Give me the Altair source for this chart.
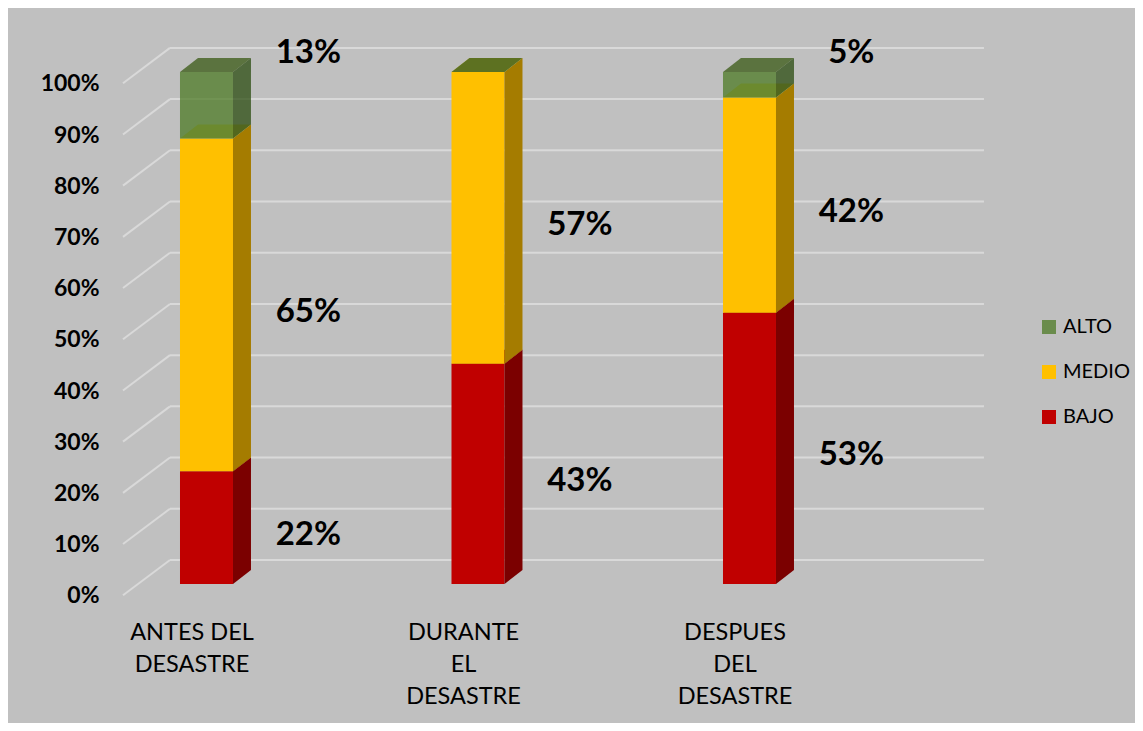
import json
import altair as alt
import pandas as pd

# ---------------- data ----------------
categories = ["ANTES DEL DESASTRE", "DURANTE EL DESASTRE", "DESPUES DEL DESASTRE"]
category_lines = [["ANTES DEL", "DESASTRE"], ["DURANTE", "EL", "DESASTRE"], ["DESPUES", "DEL", "DESASTRE"]]
series = ["BAJO", "MEDIO", "ALTO"]
bajo = [22, 43, 53]
medio = [65, 57, 42]
alto = [13, 0, 5]
y_ticks = [0, 10, 20, 30, 40, 50, 60, 70, 80, 90, 100]
legend_order = ["ALTO", "MEDIO", "BAJO"]

# ---------------- style ----------------
FONT = "Lato"
BG = "#C0C0C0"
GRID = "#D9D9D9"
front_color = {"BAJO": "#C00000", "MEDIO": "#FFC000", "ALTO": "#4D7B25"}
side_color = {"BAJO": "#7B0000", "MEDIO": "#A57C00", "ALTO": "#2B4C10"}
top_color = {"BAJO": "#8E0000", "MEDIO": "#C5B749", "ALTO": "#395914"}
face_opacity = {"BAJO": 1.0, "MEDIO": 1.0, "ALTO": 0.75}
legend_color = {"ALTO": "#6A8C4C", "MEDIO": "#FFC000", "BAJO": "#C00000"}

HW = 0.0976     # half bar width (x units)
DX = 0.0663     # 3D depth in x
DY = 2.73       # 3D depth in y (value units)
FRONT_U, BACK_U, BACK_U_END = -0.3075, -0.1344, 2.8637
FRONT_DV, BACK_DV = -2.2, 4.7
LABEL_DX = 0.375

xs = alt.Scale(domain=[-0.3554, 2.9227], nice=False, zero=False)
ys = alt.Scale(domain=[-3.125, 108.2], nice=False, zero=False)

# ---------------- tables ----------------
seg_rows = []
for i, c in enumerate(categories):
    base = 0
    for s, vals in zip(series, [bajo, medio, alto]):
        v = vals[i]
        seg_rows.append(dict(i=i, cat=c, series=s, value=v, bottom=base, top=base + v,
                             seg=f"{i}-{s}"))
        base += v
segs = pd.DataFrame(seg_rows)
segs["xl"] = segs["i"] - HW
segs["xr"] = segs["i"] + HW

side_rows, top_rows = [], []
for r in seg_rows:
    i = r["i"]
    side_rows.append(dict(seg=r["seg"], series=r["series"], sx=i + HW, lo=r["bottom"], hi=r["top"]))
    side_rows.append(dict(seg=r["seg"], series=r["series"], sx=i + HW + DX, lo=r["bottom"] + DY, hi=r["top"] + DY))
    top_rows.append(dict(seg=r["seg"], series=r["series"], ty=r["top"], tx=i - HW, tx2=i + HW))
    top_rows.append(dict(seg=r["seg"], series=r["series"], ty=r["top"] + DY, tx=i - HW + DX, tx2=i + HW + DX))
sides = pd.DataFrame(side_rows)
tops = pd.DataFrame(top_rows)

back_lines = pd.DataFrame({"gy": [t + BACK_DV for t in y_ticks], "gx": BACK_U, "gx2": BACK_U_END})
diag_lines = pd.DataFrame({"gx": FRONT_U, "gy": [t + FRONT_DV for t in y_ticks],
                           "gx2": BACK_U, "gy2": [t + BACK_DV for t in y_ticks]})

lab = segs[segs["value"] > 0].copy()
lab["lx"] = lab["i"] + LABEL_DX
lab["ly"] = [(r.top + DY + 1.0) if r.series == "ALTO" else ((r.bottom + r.top) / 2 - 1.4)
             for r in lab.itertuples()]
lab["label"] = lab["value"].astype(int).astype(str) + "%"

# axes (identical objects on every layer so they merge cleanly)
x_label_expr = json.dumps(category_lines) + "[datum.value]"
x_axis = alt.Axis(
    values=list(range(len(categories))), labelExpr=x_label_expr, title=None,
    domain=False, ticks=False, grid=False, labelPadding=20, labelOffset=-15,
    labelFont=FONT, labelFontSize=23.5, labelColor="#000000", labelLineHeight=32,
    labelFlush=False, labelOverlap=False, labelBaseline="top", labelAlign="center")
y_axis = alt.Axis(
    values=y_ticks, labelExpr="datum.value + '%'", title=None,
    domain=False, ticks=False, grid=False, labelPadding=11, labelOffset=12,
    labelFont=FONT, labelFontSize=23, labelFontWeight="bold", labelColor="#000000",
    labelFlush=False, labelOverlap=False)


def X(field):
    return alt.X(field, scale=xs, axis=x_axis, stack=None)


def Y(field):
    return alt.Y(field, scale=ys, axis=y_axis, stack=None)


# ---------------- layers ----------------
layers = []

layers.append(alt.Chart(back_lines).mark_rule(color=GRID, strokeWidth=2).encode(
    x=X("gx:Q"), x2="gx2:Q", y=Y("gy:Q")))
layers.append(alt.Chart(diag_lines).mark_rule(color=GRID, strokeWidth=2).encode(
    x=X("gx:Q"), x2="gx2:Q", y=Y("gy:Q"), y2="gy2:Q"))

# legend carrier (invisible marks)
layers.append(alt.Chart(segs).mark_square(opacity=0).encode(
    x=X("i:Q"), y=Y("bottom:Q"),
    color=alt.Color("series:N",
                    scale=alt.Scale(domain=legend_order, range=[legend_color[s] for s in legend_order]),
                    legend=alt.Legend(title=None, orient="none", legendX=929, legendY=287,
                                      symbolType="square", symbolSize=196, symbolOpacity=1,
                                      symbolStrokeWidth=0, labelFont=FONT, labelFontSize=20,
                                      labelColor="#000000", labelOffset=4, rowPadding=25,
                                      padding=0))))

for s in series:
    fdf = segs[segs["series"] == s]
    layers.append(alt.Chart(fdf).mark_rect(color=front_color[s], opacity=face_opacity[s]).encode(
        x=X("xl:Q"), x2="xr:Q", y=Y("bottom:Q"), y2="top:Q"))
    layers.append(alt.Chart(sides[sides["series"] == s]).mark_area(
        orient="vertical", color=side_color[s], opacity=face_opacity[s]).encode(
        x=X("sx:Q"), y=Y("lo:Q"), y2="hi:Q", detail="seg:N"))
    layers.append(alt.Chart(tops[tops["series"] == s]).mark_area(
        orient="horizontal", color=top_color[s], opacity=face_opacity[s]).encode(
        y=Y("ty:Q"), x=X("tx:Q"), x2="tx2:Q", detail="seg:N"))

layers.append(alt.Chart(lab).mark_text(font=FONT, fontSize=33, fontWeight="bold", color="#000000",
                                       align="center", baseline="middle").encode(
    x=X("lx:Q"), y=Y("ly:Q"), text="label:N"))

chart = alt.layer(*layers).properties(
    width=890, height=570,
    padding={"left": 102, "top": 22, "right": 135, "bottom": 123},
    autosize=alt.AutoSizeParams(type="none"),
    background=BG,
).configure_view(stroke=None)

chart.save("out.html", embed_options={"renderer": "svg", "actions": False})
